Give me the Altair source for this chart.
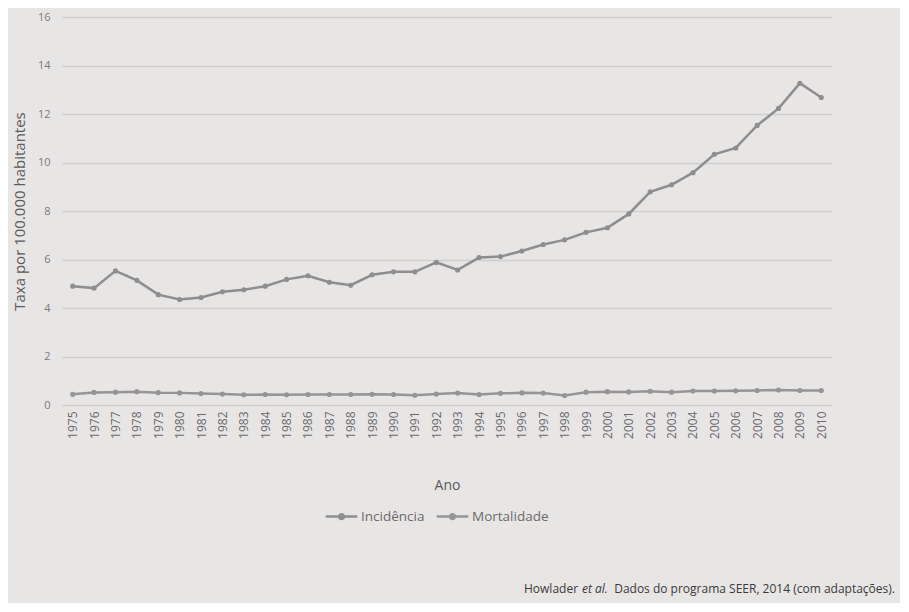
import altair as alt
import pandas as pd

years = list(range(1975, 2011))
incidencia = [4.90, 4.82, 5.53, 5.14, 4.55, 4.35, 4.43, 4.67, 4.75, 4.90,
              5.18, 5.33, 5.06, 4.94, 5.37, 5.49, 5.49, 5.88, 5.57, 6.08,
              6.12, 6.35, 6.62, 6.81, 7.12, 7.31, 7.88, 8.79, 9.08, 9.58,
              10.34, 10.60, 11.53, 12.23, 13.27, 12.68]
mortalidade = [0.44, 0.52, 0.53, 0.55, 0.51, 0.50, 0.47, 0.45, 0.42, 0.43,
               0.42, 0.43, 0.43, 0.43, 0.44, 0.43, 0.40, 0.45, 0.49, 0.43,
               0.48, 0.50, 0.49, 0.39, 0.53, 0.55, 0.54, 0.57, 0.53, 0.58,
               0.58, 0.59, 0.60, 0.62, 0.60, 0.60]
series_names = ["Incidência", "Mortalidade"]
y_ticks = [0, 2, 4, 6, 8, 10, 12, 14, 16]

rows = []
for i, yr in enumerate(years):
    rows.append({"Ano": str(yr), "Taxa": incidencia[i], "Série": series_names[0]})
    rows.append({"Ano": str(yr), "Taxa": mortalidade[i], "Série": series_names[1]})
df = pd.DataFrame(rows)

FONT = "Open Sans"
GRAY_LINE = "#8e8e8e"

lines = alt.Chart(df).mark_line(
    strokeWidth=2.5,
    point=alt.OverlayMarkDef(size=26, filled=True, color=GRAY_LINE),
).encode(
    x=alt.X("Ano:O", sort=[str(y) for y in years],
            axis=alt.Axis(title="Ano", labelAngle=-90, labelFontSize=12,
                          labelColor="#6a6a6a", labelFont=FONT, ticks=False,
                          domain=False, labelPadding=6, titleFont=FONT,
                          titleFontSize=14, titleFontWeight="normal",
                          titleColor="#5a5a5a", titlePadding=40, grid=False)),
    y=alt.Y("Taxa:Q", scale=alt.Scale(domain=[0, 16]),
            axis=alt.Axis(title="Taxa por 100.000 habitantes", values=y_ticks,
                          labelFontSize=11, labelColor="#7a7a7a", labelFont=FONT,
                          ticks=False, domain=False, labelPadding=12,
                          titleFont=FONT, titleFontSize=15,
                          titleFontWeight="normal", titleColor="#5a5a5a",
                          titlePadding=10, gridColor="#cfcfcf", gridWidth=1.5)),
    color=alt.Color("Série:N", sort=series_names,
                    scale=alt.Scale(domain=series_names, range=[GRAY_LINE, "#959595"]),
                    legend=alt.Legend(title=None, orient="none", direction="horizontal",
                                      legendX=262, legendY=482,
                                      symbolType="M-1,0 L1,0 M-0.15,0 A0.15,0.15 0 1,1 0.15,0 A0.15,0.15 0 1,1 -0.15,0",
                                      symbolSize=1000, symbolStrokeWidth=2.5,
                                      labelFont=FONT, labelFontSize=13.5,
                                      labelColor="#6a6a6a", columnPadding=6,
                                      labelOffset=2)),
)

src1 = alt.Chart(pd.DataFrame({"t": ["Howlader"]})).mark_text(
    align="left", baseline="middle", font=FONT, fontSize=12, color="#3a3a3a"
).encode(text="t:N", x=alt.value(462), y=alt.value(572))
src2 = alt.Chart(pd.DataFrame({"t": ["et al."]})).mark_text(
    align="left", baseline="middle", font=FONT, fontSize=12, fontStyle="italic",
    color="#3a3a3a"
).encode(text="t:N", x=alt.value(520), y=alt.value(572))
src3 = alt.Chart(pd.DataFrame({"t": ["Dados do programa SEER, 2014 (com adaptações)."]})).mark_text(
    align="right", baseline="middle", font=FONT, fontSize=12, color="#3a3a3a"
).encode(text="t:N", x=alt.value(833), y=alt.value(572))

chart = alt.layer(lines, src1, src2, src3).properties(
    width=770, height=388,
    autosize=alt.AutoSizeParams(type="none"),
    padding={"left": 54, "top": 9, "right": 68, "bottom": 198},
    background="#e8e5e5",
).configure_view(stroke=None)

chart.save("out.html", embed_options={"renderer": "svg", "actions": False})
